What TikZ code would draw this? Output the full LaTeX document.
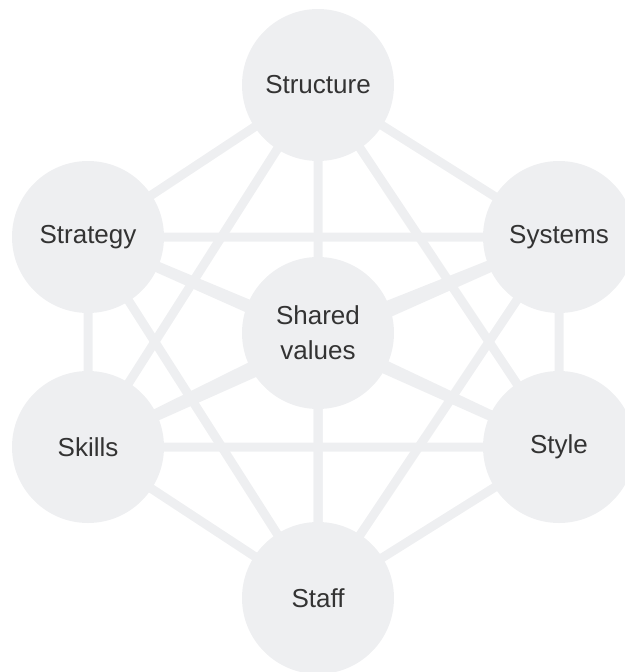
\documentclass[tikz,border=0pt]{standalone}
\usepackage{fontspec}
\setmainfont{Liberation Sans}
\usetikzlibrary{backgrounds}
\definecolor{bubble}{RGB}{238,239,241}
\definecolor{ink}{RGB}{51,51,51}

\begin{document}
\begin{tikzpicture}[x = 1pt, y = -1pt, circ/.style = {circle, fill = bubble, minimum size = 152pt, inner sep = 0pt, align = center, text = ink, font = \fontsize{26}{35}\selectfont}, link/.style = {draw = bubble, line width = 9pt}]
      \useasboundingbox (0,0) rectangle (624,672);
      \node[circ] (structure) at (318,85) {Structure};
      \node[circ] (strategy) at (88,237) {Strategy};
      \node[circ] (systems) at (559,237) {Systems};
      \node[circ] (shared) at (318,333) {Shared\\values};
      \node[circ] (skills) at (88,447) {Skills};
      \node[circ] (style) at (559,447) {Style};
      \node[circ] (staff) at (318,598) {Staff};
      \begin{pgfonlayer}{background}
      \draw[link] (structure.center) -- (strategy.center)
        (structure.center) -- (systems.center)
        (structure.center) -- (shared.center)
        (structure.center) -- (skills.center)
        (structure.center) -- (style.center)
        (structure.center) -- (staff.center);
      \draw[link] (strategy.center) -- (systems.center)
        (strategy.center) -- (shared.center)
        (strategy.center) -- (skills.center)
        (strategy.center) -- (style.center)
        (strategy.center) -- (staff.center);
      \draw[link] (systems.center) -- (shared.center)
        (systems.center) -- (skills.center)
        (systems.center) -- (style.center)
        (systems.center) -- (staff.center);
      \draw[link] (shared.center) -- (skills.center)
        (shared.center) -- (style.center)
        (shared.center) -- (staff.center);
      \draw[link] (skills.center) -- (style.center)
        (skills.center) -- (staff.center)
        (style.center) -- (staff.center);
      \end{pgfonlayer}
\end{tikzpicture}
\end{document}
